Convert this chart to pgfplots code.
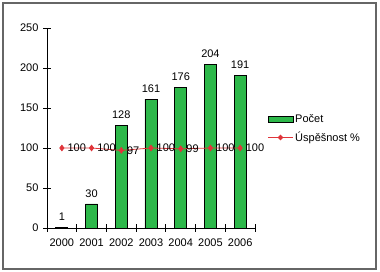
\documentclass[border=0pt]{standalone}
\usepackage{pgfplots}
\pgfplotsset{compat=1.18}
\usepackage{fontspec}
\setmainfont{Liberation Sans}
\definecolor{bargreen}{HTML}{2DB84A}
\definecolor{linered}{HTML}{E0353A}
\begin{document}
\begin{tikzpicture}[font=\fontsize{11pt}{13pt}\selectfont]
\path[use as bounding box] (0pt,0pt) rectangle (380pt,272pt);
\draw[line width=1.4pt, color=black!60] (3pt,3pt) rectangle (376pt,269pt);
\begin{axis}[
  at={(47pt,44pt)}, anchor=south west,
  scale only axis, width=208pt, height=200pt,
  xmin=-0.5, xmax=6.5, ymin=0, ymax=250,
  axis lines=left,
  axis line style={-, line width=0.8pt},
  xtick={0,...,6}, xticklabels={2000,2001,2002,2003,2004,2005,2006},
  ytick={0,50,...,250},
  major tick length=0pt,
  yticklabel style={xshift=-5pt},
  xticklabel style={yshift=-7pt},
  ticklabel style={font=\fontsize{11pt}{13pt}\selectfont},
  /pgf/number format/assume math mode=true,
  clip=false,
]
% tick marks
\addplot[black, line width=0.8pt, unbounded coords=jump, forget plot, mark=none]
  coordinates {(-0.5,-4.4) (-0.5,4.4) (nan,nan) (0.5,-4.4) (0.5,4.4) (nan,nan)
  (1.5,-4.4) (1.5,4.4) (nan,nan) (2.5,-4.4) (2.5,4.4) (nan,nan)
  (3.5,-4.4) (3.5,4.4) (nan,nan) (4.5,-4.4) (4.5,4.4) (nan,nan)
  (5.5,-4.4) (5.5,4.4) (nan,nan) (6.5,-4.4) (6.5,4.4)};
\addplot[black, line width=0.8pt, unbounded coords=jump, forget plot, mark=none]
  coordinates {(-0.62,0) (-0.38,0) (nan,nan) (-0.62,50) (-0.38,50) (nan,nan)
  (-0.62,100) (-0.38,100) (nan,nan) (-0.62,150) (-0.38,150) (nan,nan)
  (-0.62,200) (-0.38,200) (nan,nan) (-0.62,250) (-0.38,250)};
\addplot[ybar, bar width=12pt, fill=bargreen, draw=black, line width=0.8pt,
  nodes near coords, nodes near coords style={font=\fontsize{11pt}{13pt}\selectfont, yshift=3pt}]
  coordinates {(0,1) (1,30) (2,128) (3,161) (4,176) (5,204) (6,191)};
\addplot[color=linered, line width=0.8pt, mark=diamond*, mark size=2.8pt,
  nodes near coords, point meta=explicit symbolic,
  nodes near coords style={anchor=west, xshift=2pt, text=black, font=\fontsize{11pt}{13pt}\selectfont}]
  coordinates {(0,100)[100] (1,100)[100] (2,97)[97] (3,100)[100] (4,99)[99] (5,100)[100] (6,100)[100]};
\end{axis}
% legend
\filldraw[fill=bargreen, draw=black, line width=0.8pt] (268pt,150pt) rectangle (293pt,156pt);
\node[anchor=west, inner sep=0pt] at (295pt,153pt) {Počet};
\draw[linered, line width=0.8pt] (268pt,134.5pt) -- (293pt,134.5pt);
\fill[linered] (280.5pt,137.3pt) -- (283.3pt,134.5pt) -- (280.5pt,131.7pt) -- (277.7pt,134.5pt) -- cycle;
\node[anchor=west, inner sep=0pt] at (295pt,134.5pt) {Úspěšnost \%};
\end{tikzpicture}
\end{document}
